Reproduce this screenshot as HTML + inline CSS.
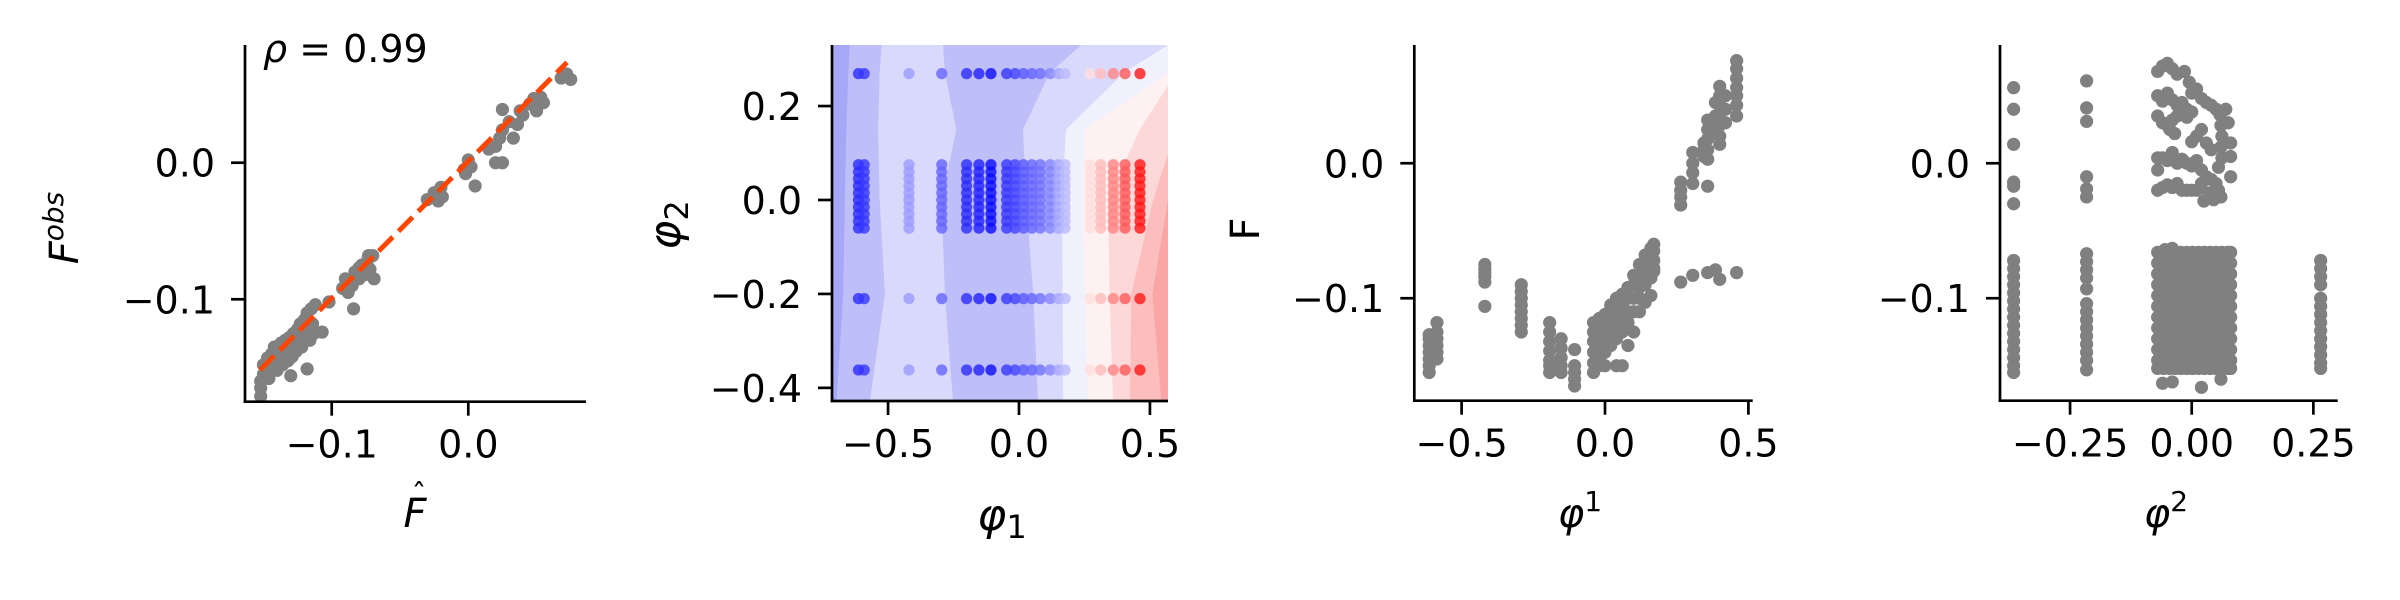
<!DOCTYPE html>
<html><head><meta charset="utf-8">
<style>
html,body{margin:0;padding:0;background:#fff;}
svg{display:block;font-family:"DejaVu Sans","Liberation Sans",sans-serif;}
</style></head>
<body>
<svg id="fig" width="2400" height="600" viewBox="0 0 2400 600" xmlns="http://www.w3.org/2000/svg"></svg>
<script>
// ---------- Panel 1 data: predicted vs observed ----------
const p1Fhat = [-0.152,-0.152,-0.150,-0.150,-0.148,-0.147,-0.146,-0.145,-0.144,-0.143,-0.142,-0.141,-0.140,-0.139,-0.138,-0.137,-0.136,-0.135,-0.134,-0.133,-0.132,-0.131,-0.130,-0.129,-0.128,-0.127,-0.126,-0.125,-0.124,-0.123,-0.122,-0.121,-0.120,-0.119,-0.118,-0.117,-0.116,-0.115,-0.114,-0.113,-0.112,-0.130,-0.118,-0.107,-0.152,-0.145,-0.140,-0.133,-0.128,-0.122,
 -0.102,-0.092,-0.090,-0.088,-0.085,-0.083,-0.080,-0.078,-0.076,-0.074,-0.072,-0.070,-0.069,-0.073,-0.080,-0.084,
 -0.030,-0.025,-0.022,-0.020,-0.019,-0.003,0.000,-0.002,0.002,0.005,0.015,0.020,0.020,0.025,0.023,0.025,0.030,0.033,0.038,0.036,0.040,0.045,0.048,0.050,0.053,0.055,0.068,0.072,0.075,0.025];
const p1Fobs = [-0.160,-0.165,-0.155,-0.148,-0.152,-0.143,-0.158,-0.147,-0.140,-0.150,-0.135,-0.145,-0.152,-0.138,-0.143,-0.132,-0.148,-0.140,-0.130,-0.137,-0.145,-0.128,-0.135,-0.142,-0.125,-0.133,-0.138,-0.122,-0.130,-0.118,-0.135,-0.127,-0.115,-0.125,-0.110,-0.120,-0.130,-0.107,-0.118,-0.125,-0.104,-0.156,-0.151,-0.124,-0.171,-0.152,-0.145,-0.142,-0.130,-0.128,
 -0.102,-0.092,-0.085,-0.095,-0.090,-0.080,-0.085,-0.075,-0.082,-0.072,-0.078,-0.068,-0.085,-0.068,-0.077,-0.107,
 -0.027,-0.022,-0.028,-0.018,-0.025,-0.005,0.002,-0.008,-0.003,-0.017,0.010,0.012,0.000,0.000,0.018,0.024,0.030,0.018,0.038,0.028,0.035,0.043,0.047,0.038,0.048,0.044,0.062,0.065,0.061,0.039];
const p1FitX = [-0.1525, 0.0723];
const p1FitY = [-0.1518, 0.0735];
const p1XTicks = [-0.1, 0.0];
const p1YTicks = [-0.1, 0.0];
const p1Rho = "0.99";

// ---------- Panel 2 data: contour + coloured scatter ----------
const p2Levels = [0.33, 0.27, 0.15, 0.0, -0.2, -0.43];
const p2Bounds = [
  [-0.645,-0.651,-0.658,-0.664,-0.670,-0.696],
  [-0.524,-0.531,-0.537,-0.531,-0.511,-0.569],
  [-0.289,-0.282,-0.238,-0.295,-0.282,-0.251],
  [0.239,0.118,0.016,0.029,0.055,0.074],
  [0.570,0.400,0.180,0.165,0.168,0.170],
  [0.600,0.570,0.252,0.245,0.252,0.265],
  [0.600,0.600,0.462,0.341,0.347,0.360],
  [0.600,0.600,0.600,0.513,0.430,0.424],
  [0.600,0.600,0.600,0.570,0.510,0.545]
];
const p2BandColors = ["#a7a7f7","#bebef9","#d9d9fb","#bebef9","#d9d9fb","#f1f1fe","#fef1f1","#fdd8d8","#fcbdbd","#faa6a6"];
const p2ColX = [-0.613,-0.591,-0.42,-0.295,-0.2,-0.153,-0.107,-0.047,-0.015,0.017,0.049,0.081,0.119,0.151,0.176,0.271,0.312,0.36,0.405,0.462];
const p2ColF = [-0.140,-0.135,-0.090,-0.115,-0.140,-0.145,-0.155,-0.135,-0.130,-0.120,-0.115,-0.110,-0.100,-0.085,-0.075,-0.030,-0.015,0.010,0.030,0.060];
const p2RowY = [0.269,0.075,0.06,0.045,0.03,0.015,0.0,-0.015,-0.03,-0.045,-0.06,-0.21,-0.362];
const p2XTicks = [-0.5, 0.0, 0.5];
const p2YTicks = [-0.4, -0.2, 0.0, 0.2];

// ---------- Panel 3 data: phi1 vs F ----------
const p3ColX = [-0.613,-0.586,-0.419,-0.292,-0.193,-0.153,-0.106,-0.04,-0.02,0.0,0.02,0.04,0.06,0.08,0.10,0.12,0.14,0.16,0.17,0.264,0.306,0.345,0.358,0.385,0.40,0.42,0.459];
const p3ColF = [
 [-0.155,-0.150,-0.145,-0.140,-0.135,-0.130,-0.127],
 [-0.145,-0.140,-0.135,-0.130,-0.125,-0.118],
 [-0.075,-0.078,-0.081,-0.084,-0.088,-0.106],
 [-0.090,-0.095,-0.100,-0.105,-0.110,-0.115,-0.120,-0.125],
 [-0.118,-0.125,-0.132,-0.139,-0.146,-0.150,-0.155],
 [-0.130,-0.137,-0.144,-0.150,-0.155],
 [-0.138,-0.150,-0.155,-0.160,-0.165],
 [-0.148,-0.140,-0.132,-0.125,-0.118,-0.155],
 [-0.145,-0.135,-0.125,-0.115,-0.150],
 [-0.140,-0.130,-0.120,-0.112,-0.150],
 [-0.135,-0.125,-0.115,-0.108,-0.105],
 [-0.130,-0.120,-0.110,-0.100,-0.150],
 [-0.125,-0.115,-0.105,-0.097,-0.150],
 [-0.118,-0.110,-0.100,-0.092,-0.135],
 [-0.110,-0.100,-0.090,-0.083,-0.125],
 [-0.100,-0.092,-0.083,-0.075,-0.110],
 [-0.090,-0.082,-0.075,-0.068,-0.103],
 [-0.085,-0.078,-0.070,-0.063,-0.098],
 [-0.080,-0.072,-0.065,-0.060,-0.078],
 [-0.014,-0.020,-0.025,-0.031,-0.088],
 [0.008,0.000,-0.007,-0.015,-0.083],
 [0.015,0.010,0.005],
 [0.032,0.025,0.018,0.010,0.003,-0.017,-0.081],
 [0.045,0.035,0.025,-0.079],
 [0.057,0.050,0.043,0.036,0.028,0.020,0.014,-0.086],
 [0.050,0.040,0.030],
 [0.076,0.070,0.063,0.056,0.050,0.043,0.035,-0.081]
];
const p3XTicks = [-0.5, 0.0, 0.5];
const p3YTicks = [-0.1, 0.0];

// ---------- Panel 4 data: phi2 vs F ----------
const p4SideX = [-0.366,-0.216,0.265];
const p4SideF = [
 [0.056,0.040,0.014,-0.014,-0.017,-0.030,-0.072,-0.078,-0.084,-0.090,-0.096,-0.102,-0.108,-0.114,-0.120,-0.126,-0.132,-0.138,-0.144,-0.150,-0.155],
 [0.061,0.041,0.031,-0.010,-0.019,-0.025,-0.067,-0.073,-0.079,-0.085,-0.093,-0.104,-0.110,-0.116,-0.122,-0.128,-0.134,-0.140,-0.146,-0.153],
 [-0.072,-0.078,-0.084,-0.090,-0.100,-0.106,-0.112,-0.118,-0.124,-0.130,-0.136,-0.142,-0.148,-0.152]
];
const p4UpperX = [-0.07,-0.06,-0.05,-0.04,-0.03,-0.015,-0.005,0.0,0.01,0.02,0.03,0.04,0.05,0.058,0.06,0.062,0.06,0.062,0.055,
 -0.07,-0.06,-0.05,-0.04,-0.03,-0.02,-0.01,0.0,-0.07,-0.06,-0.05,-0.04,-0.03,-0.02,-0.01,
 -0.045,-0.035,0.0,0.01,0.02,0.03,0.04,
 -0.07,-0.07,-0.06,-0.05,-0.04,-0.03,-0.02,-0.01,0.0,0.01,0.02,0.03,0.04,0.05,
 -0.07,-0.06,-0.05,-0.04,-0.03,-0.02,-0.01,0.0,0.01,0.02,0.025,0.035,0.045,0.055,0.06,0.07,0.075,0.08,0.08,0.08];
const p4UpperF = [0.068,0.072,0.074,0.070,0.066,0.068,0.060,0.052,0.055,0.048,0.045,0.043,0.040,0.036,0.028,0.020,0.012,0.004,-0.003,
 0.050,0.046,0.052,0.047,0.043,0.045,0.040,0.038,0.035,0.030,0.028,0.032,0.035,0.038,0.034,
 0.025,0.022,0.016,0.020,0.025,0.015,0.010,
 0.004,-0.005,0.004,0.002,0.008,0.000,0.003,0.000,-0.002,0.002,-0.005,-0.010,-0.012,-0.015,
 -0.020,-0.018,-0.016,-0.018,-0.015,-0.020,-0.020,-0.020,-0.020,-0.015,-0.028,-0.022,-0.027,-0.020,-0.025,0.040,0.030,0.015,0.005,-0.010];
const p4BlockX = [-0.070,-0.058,-0.046,-0.034,-0.022,-0.010,0.002,0.014,0.026,0.038,0.050,0.062,0.074,0.080];
const p4BlockF = [-0.066,-0.074,-0.082,-0.090,-0.098,-0.106,-0.114,-0.122,-0.130,-0.138,-0.146,-0.152];
const p4ExtraX = [-0.060,-0.040,0.020,0.060,-0.055,-0.040];
const p4ExtraF = [-0.163,-0.162,-0.166,-0.160,-0.064,-0.063];
const p4XTicks = [-0.25, 0.0, 0.25];
const p4YTicks = [-0.1, 0.0];

// ---------- helpers ----------
const NS = "http://www.w3.org/2000/svg";
const svg = document.getElementById('fig');
const GR = 6.6;
function mk(tag, attrs, parent){
  const e = document.createElementNS(NS, tag);
  for (const k in attrs) e.setAttribute(k, attrs[k]);
  (parent||svg).appendChild(e);
  return e;
}
function scale(d0,d1,p0,p1){ return v => p0 + (v-d0)/(d1-d0)*(p1-p0); }
function fmt(v,dec){ const s=Math.abs(v).toFixed(dec); return (v<0?"\u2212":"")+s; }

function axes(g, L, R, T, B, xs, ys, xt, yt, dec){
  xt.forEach(t=>{
    const x = xs(t);
    const tk = mk('line',{x1:x,x2:x,y1:B,y2:B+14,stroke:'#000','stroke-width':2.7},g);
    
    
    const lb = mk('text',{x:x,y:B+56,'text-anchor':'middle','font-size':38,fill:'#000'},g);
    lb.textContent = fmt(t,dec[0]);
    
    
  });
  yt.forEach(t=>{
    const y = ys(t);
    const tk = mk('line',{x1:L-14,x2:L,y1:y,y2:y,stroke:'#000','stroke-width':2.7},g);
    
    
    const lb = mk('text',{x:L-30,y:y+14,'text-anchor':'end','font-size':38,fill:'#000'},g);
    lb.textContent = fmt(t,dec[1]);
    
    
  });
  const sl = mk('line',{x1:L,x2:L,y1:T,y2:B+1.3,stroke:'#000','stroke-width':2.7},g);
  
  
  const sb = mk('line',{x1:L-1.3,x2:R,y1:B,y2:B,stroke:'#000','stroke-width':2.7},g);
  
  
}
function dot(g,x,y,r,fill,op){
  const c = mk('circle',{cx:x,cy:y,r:r,fill:fill,'fill-opacity':op},g);
  
  
  return c;
}

// ---------- Panel 1 ----------
(function(){
  const g = mk('g',{});
  
  
  const L=245,R=586,T=45,B=401.7;
  const xs = scale(-0.1635,0.0862,L,R), ys = scale(-0.175,0.0862,B,T);
  for(let i=0;i<p1Fhat.length;i++) dot(g,xs(p1Fhat[i]),ys(p1Fobs[i]),GR,'#808080',1);
  const ln = mk('line',{x1:xs(p1FitX[0]),y1:ys(p1FitY[0]),x2:xs(p1FitX[1]),y2:ys(p1FitY[1]),stroke:'#ff4500','stroke-width':5,'stroke-dasharray':'20 8'},g);
  
  
  axes(g,L,R,T,B,xs,ys,p1XTicks,p1YTicks,[1,1]);
  const rt = mk('text',{x:263,y:62,'font-size':38,fill:'#000'},g);
  rt.innerHTML = '<tspan font-style="italic">\u03c1</tspan> = ' + p1Rho;
  
  
  const xl = mk('text',{x:415,y:527,'text-anchor':'middle','font-size':40,'font-style':'italic',fill:'#000'},g);
  xl.textContent = 'F';
  
  
  const hat = mk('text',{x:419,y:505,'text-anchor':'middle','font-size':30,fill:'#000'},g);
  hat.textContent = '\u02c6';
  
  
  const yl = mk('text',{x:0,y:0,transform:'translate(78,228) rotate(-90)','text-anchor':'middle','font-size':40,fill:'#000'},g);
  yl.innerHTML = '<tspan font-style="italic">F</tspan><tspan font-style="italic" font-size="28" dy="-15">obs</tspan>';
  
  
})();

// ---------- Panel 2 ----------
(function(){
  const g = mk('g',{});
  
  
  const L=832,R=1168,T=45,B=401;
  const xs = scale(-0.714,0.569,L,R), ys = scale(-0.428,0.33,B,T);
  const clip = mk('clipPath',{id:'c2'},g);
  mk('rect',{x:L,y:T,width:R-L,height:B-T},clip);
  const cg = mk('g',{'clip-path':'url(#c2)'},g);
  const edgeL = p2Levels.map(()=>-0.8), edgeR = p2Levels.map(()=>0.7);
  const all = [edgeL].concat(p2Bounds).concat([edgeR]);
  for(let b=0;b<all.length-1;b++){
    const a = all[b], c = all[b+1];
    let pts = [];
    for(let i=0;i<p2Levels.length;i++) pts.push(xs(a[i])+','+ys(p2Levels[i]));
    for(let i=p2Levels.length-1;i>=0;i--) pts.push(xs(c[i])+','+ys(p2Levels[i]));
    const pg = mk('polygon',{points:pts.join(' '),fill:p2BandColors[b],stroke:p2BandColors[b],'stroke-width':0.5},cg);
    
    
  }
  function bwr(f){
    let t = (f+0.16)/0.23; t = Math.max(0,Math.min(1,t));
    let r,gg,bb;
    if(t<0.5){ r=gg=Math.round(2*t*255); bb=255; } else { r=255; gg=bb=Math.round((2-2*t)*255); }
    return 'rgb('+r+','+gg+','+bb+')';
  }
  for(let j=0;j<p2RowY.length;j++) for(let i=0;i<p2ColX.length;i++)
    dot(cg,xs(p2ColX[i]),ys(p2RowY[j]),5.6,bwr(p2ColF[i]),0.8);
  axes(g,L,R,T,B,xs,ys,p2XTicks,p2YTicks,[1,1]);
  const xl = mk('text',{x:1002,y:530,'text-anchor':'middle','font-size':44,fill:'#000'},g);
  xl.innerHTML = '<tspan font-style="italic">\u03c6</tspan><tspan font-size="32" dy="8">1</tspan>';
  
  
  const yl = mk('text',{x:0,y:0,transform:'translate(680,225) rotate(-90)','text-anchor':'middle','font-size':44,fill:'#000'},g);
  yl.innerHTML = '<tspan font-style="italic">\u03c6</tspan><tspan font-size="32" dy="8">2</tspan>';
  
  
})();

// ---------- Panel 3 ----------
(function(){
  const g = mk('g',{});
  
  
  const L=1414.3,R=1752.7,T=45,B=400.7;
  const xs = scale(-0.665,0.515,L,R), ys = scale(-0.1759,0.0876,B,T);
  for(let i=0;i<p3ColX.length;i++) p3ColF[i].forEach(f=>dot(g,xs(p3ColX[i]),ys(f),GR,'#808080',1));
  axes(g,L,R,T,B,xs,ys,p3XTicks,p3YTicks,[1,1]);
  const xl = mk('text',{x:1580,y:527,'text-anchor':'middle','font-size':40,fill:'#000'},g);
  xl.innerHTML = '<tspan font-style="italic">\u03c6</tspan><tspan font-size="28" dy="-16">1</tspan>';
  
  
  const yl = mk('text',{x:0,y:0,transform:'translate(1259,229) rotate(-90)','text-anchor':'middle','font-size':40,fill:'#000'},g);
  yl.textContent = 'F';
  
  
})();

// ---------- Panel 4 ----------
(function(){
  const g = mk('g',{});
  
  
  const L=2000,R=2337.7,T=45,B=400.7;
  const xs = scale(-0.394,0.30,L,R), ys = scale(-0.1759,0.0876,B,T);
  for(let i=0;i<p4SideX.length;i++) p4SideF[i].forEach(f=>dot(g,xs(p4SideX[i]),ys(f),GR,'#808080',1));
  for(let i=0;i<p4UpperX.length;i++) dot(g,xs(p4UpperX[i]),ys(p4UpperF[i]),GR,'#808080',1);
  p4BlockX.forEach(x=>p4BlockF.forEach(f=>dot(g,xs(x),ys(f),GR,'#808080',1)));
  for(let i=0;i<p4ExtraX.length;i++) dot(g,xs(p4ExtraX[i]),ys(p4ExtraF[i]),GR,'#808080',1);
  axes(g,L,R,T,B,xs,ys,p4XTicks,p4YTicks,[2,1]);
  const xl = mk('text',{x:2166,y:527,'text-anchor':'middle','font-size':40,fill:'#000'},g);
  xl.innerHTML = '<tspan font-style="italic">\u03c6</tspan><tspan font-size="28" dy="-16">2</tspan>';
  
  
})();
</script>
</body></html>
